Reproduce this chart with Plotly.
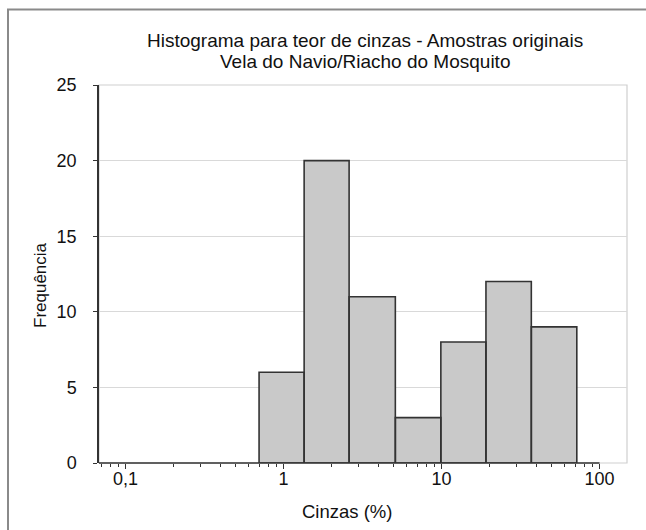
import numpy as np
import plotly.graph_objects as go

# ---- data ----
bin_edges = [0.7, 1.35, 2.6, 5.1, 9.9, 19.1, 37.0, 71.8]
counts = [6, 20, 11, 3, 8, 12, 9]
x_tickvals = [0.1, 1, 10, 100]
x_ticktext = ["0,1", "1", "10", "100"]
x_minor = [0.07, 0.08, 0.09, 0.2, 0.3, 0.4, 0.5, 0.6, 0.7, 0.8, 0.9,
           2, 3, 4, 5, 6, 7, 8, 9, 20, 30, 40, 50, 60, 70, 80, 90]
y_tickvals = [0, 5, 10, 15, 20, 25]
title_lines = ["Histograma para teor de cinzas - Amostras originais",
               "Vela do Navio/Riacho do Mosquito"]
x_title = "Cinzas (%)"
y_title = "Frequência"

# ---- layout geometry (pixels) ----
W, H = 646, 530
L, R, T, B = 99, 19, 85, 67
PW, PH = W - L - R, H - T - B
x_range = [-1.168, -1.168 + PW / 158.0]


def px(xp):
    return (xp - L) / PW


def py(yp):
    return (H - B - yp) / PH


FONT = "Liberation Sans, Arial, sans-serif"

# bars as closed polygons
xs, ys = [], []
for i, c in enumerate(counts):
    a, b = bin_edges[i], bin_edges[i + 1]
    xs += [a, a, b, b, a, None]
    ys += [0, c, c, 0, 0, None]

fig = go.Figure()
fig.add_trace(go.Scatter(
    x=xs, y=ys, mode="lines", fill="toself",
    fillcolor="#c9c9c9", line=dict(color="#333333", width=1.6),
    hoverinfo="skip", showlegend=False))

x_end_paper = (np.log10(max(x_tickvals)) - x_range[0]) / (x_range[1] - x_range[0])

shapes = [
    # light plot frame
    dict(type="rect", xref="paper", yref="paper", x0=0, x1=1, y0=0, y1=1,
         line=dict(color="#cfcfcf", width=1.2), layer="below"),
    # dark x axis line up to 100
    dict(type="line", xref="paper", yref="paper", x0=0, x1=x_end_paper, y0=0, y1=0,
         line=dict(color="#333333", width=1.5)),
    # outer figure border
    dict(type="rect", xref="paper", yref="paper", x0=px(8), x1=px(700),
         y0=py(600), y1=py(9.5), line=dict(color="#8a8a8a", width=2)),
]

annotations = [
    dict(text=title_lines[0], x=px(365), y=py(41), xref="paper", yref="paper",
         showarrow=False, xanchor="center", yanchor="middle",
         font=dict(family=FONT, size=19, color="#111")),
    dict(text=title_lines[1], x=px(365), y=py(61), xref="paper", yref="paper",
         showarrow=False, xanchor="center", yanchor="middle",
         font=dict(family=FONT, size=19, color="#111")),
    dict(text=x_title, x=px(347), y=py(512), xref="paper", yref="paper",
         showarrow=False, xanchor="center", yanchor="middle",
         font=dict(family=FONT, size=18.5, color="#111")),
    dict(text=y_title, x=px(40), y=py(285), xref="paper", yref="paper",
         showarrow=False, xanchor="center", yanchor="middle", textangle=-90,
         font=dict(family=FONT, size=17, color="#111")),
]

fig.update_layout(
    width=W, height=H,
    margin=dict(l=L, r=R, t=T, b=B),
    paper_bgcolor="white", plot_bgcolor="white",
    shapes=shapes, annotations=annotations,
    xaxis=dict(type="log", range=x_range, tickmode="array",
               tickvals=x_tickvals, ticktext=x_ticktext,
               ticks="outside", ticklen=5, tickcolor="#333", tickwidth=1.2,
               showline=False, showgrid=False, zeroline=False,
               ticklabelstandoff=-6,
               tickfont=dict(family=FONT, size=18, color="#111")),
    yaxis=dict(range=[0, 25], tickmode="array", tickvals=y_tickvals,
               ticks="outside", ticklen=4, tickcolor="#333", tickwidth=1.2,
               showline=True, linecolor="#333333", linewidth=1.5,
               showgrid=True, gridcolor="#d9d9d9", gridwidth=1.2,
               zeroline=False, ticklabelstandoff=13,
               tickfont=dict(family=FONT, size=18, color="#111")),
)
fig.update_xaxes(minor=dict(tickmode="array", tickvals=x_minor, ticks="outside",
                            ticklen=3, tickcolor="#333", tickwidth=1.2,
                            showgrid=False))

fig.write_html("out.html")
